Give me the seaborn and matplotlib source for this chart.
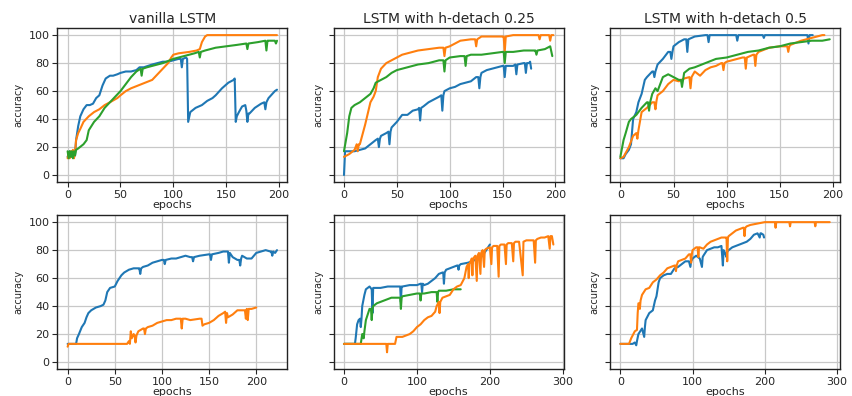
import matplotlib
matplotlib.use("Agg")
import matplotlib.pyplot as plt
import seaborn as sns

# ---------------- data ----------------
titles = ["vanilla LSTM", "LSTM with h-detach 0.25", "LSTM with h-detach 0.5"]
yticks = [0, 20, 40, 60, 80, 100]

# top-left: vanilla LSTM
tl_blue_x = [0,2,4,6,7,8,10,12,15,18,21,24,27,30,33,36,40,43,47,50,55,60,65,68,72,76,80,85,90,95,100,105,107,108,109,112,113,114,116,121,127,132,137,140,146,152,157,158,159,160,162,165,168,169,170,171,172,177,183,186,187,188,190,196,198]
tl_blue_y = [13,17,13,17,14,25,35,42,47,50,50,51,55,57,64,69,71,71,72,73,74,74,75,77,77,78,79,80,81,81,82,83,83,77,83,84,83,38,45,48,50,53,55,57,62,66,68,69,38,42,45,49,50,46,38,44,44,48,51,52,47,52,55,60,61]
tl_orange_x = [0,1,2,3,4,5,6,7,8,10,12,15,20,25,30,35,40,47,50,55,60,70,80,85,90,95,98,100,105,115,122,125,127,130,132,150,175,198]
tl_orange_y = [12,16,12,17,13,18,12,16,25,30,33,38,42,45,47,50,52,55,57,60,62,65,68,72,76,80,84,86,87,88,89,90,95,99,100,100,100,100]
tl_green_x = [0,1,2,3,4,5,6,7,8,10,15,18,20,25,30,35,40,45,50,55,60,65,69,70,71,75,80,90,100,110,120,124,125,126,130,140,150,160,169,170,171,180,187,188,189,190,196,197,198]
tl_green_y = [17,12,17,13,17,12,17,14,18,19,22,25,32,38,42,48,52,56,60,65,70,74,76,71,76,77,78,80,83,85,87,88,84,88,89,91,92,93,94,90,94,95,96,89,96,96,96,94,96]

# top-middle: h-detach 0.25
tm_blue_x = [0,1,5,10,15,20,25,30,32,33,34,35,40,42,43,44,45,50,55,60,65,70,71,72,73,75,80,85,90,92,93,94,95,100,105,110,115,120,125,127,128,129,130,135,140,145,150,151,152,153,160,162,163,164,170,171,172,173,175,176,177]
tm_blue_y = [0,17,17,17,18,19,22,25,26,20,26,28,30,31,22,31,34,38,43,43,46,47,48,39,48,49,52,54,56,57,46,57,60,62,63,65,66,67,70,70,62,70,73,75,76,77,78,78,70,78,78,79,72,79,80,80,73,80,80,81,76]
tm_orange_x = [0,5,10,12,13,14,15,20,25,28,30,32,35,40,45,50,55,60,70,80,90,94,95,96,100,105,110,120,124,125,126,130,140,150,151,152,153,160,170,184,185,186,194,195,196,198]
tm_orange_y = [13,15,18,22,17,22,22,36,52,56,60,70,76,80,82,84,86,87,89,90,91,91,85,91,92,94,96,97,97,92,97,99,99,99,99,88,99,100,100,100,97,100,100,96,100,100]
tm_green_x = [0,3,5,7,10,15,20,25,28,30,35,40,45,50,55,60,70,80,90,94,95,96,100,110,114,115,116,120,130,140,150,151,152,153,160,170,180,181,182,183,190,195,197]
tm_green_y = [17,30,42,48,50,52,55,58,62,66,68,70,73,75,76,77,79,80,82,82,74,82,84,85,85,78,85,86,86,87,88,88,80,88,88,89,89,89,86,89,90,92,85]

# top-right: h-detach 0.5
tr_blue_x = [0,3,5,8,10,12,15,17,20,23,25,30,31,32,33,35,40,45,47,48,49,50,55,60,62,63,64,70,80,82,83,84,100,109,110,111,134,135,136,176,177,178,181]
tr_blue_y = [12,12,15,18,22,40,45,52,58,68,70,74,74,70,74,79,83,88,88,83,88,92,95,97,97,88,97,99,100,100,95,100,100,100,96,100,100,98,100,100,94,100,100]
tr_orange_x = [0,3,8,12,15,16,17,20,25,30,32,33,34,35,40,45,50,55,60,65,66,67,70,75,80,85,90,95,96,97,98,100,110,115,117,118,119,125,126,127,128,130,140,150,157,158,159,160,170,180,190,192]
tr_orange_y = [12,13,20,28,30,26,32,45,48,52,52,47,53,57,60,65,68,67,69,70,62,70,74,71,75,77,78,80,80,75,80,81,83,84,84,76,84,86,86,78,86,88,91,92,92,88,92,93,96,98,100,100]
tr_green_x = [0,3,5,8,10,15,20,25,26,27,28,30,33,35,40,45,50,55,57,58,59,60,65,70,80,90,100,110,120,130,140,150,160,170,180,190,197]
tr_green_y = [13,25,30,38,40,43,48,52,52,46,52,58,62,60,70,72,70,68,68,63,68,73,76,77,80,83,84,86,88,89,91,92,94,95,96,96,97]

# bottom-left
bl_blue_x = [0,5,9,10,12,15,18,20,22,25,30,35,38,40,42,45,50,53,55,57,60,65,70,75,76,77,78,80,85,90,95,100,102,103,104,110,115,120,125,130,132,133,134,140,150,151,152,153,160,165,170,171,172,175,180,182,183,184,185,190,195,200,205,210,215,216,217,218,220,222]
bl_blue_y = [13,13,13,17,20,25,28,32,35,37,39,40,41,44,50,53,54,58,60,62,64,66,67,67,67,63,67,68,69,71,72,73,73,70,73,74,74,75,76,75,75,72,75,76,77,77,73,77,78,79,79,71,78,75,73,73,69,74,76,74,74,78,79,80,79,79,76,79,78,80]
bl_orange_x = [0,1,10,30,50,63,65,66,67,68,70,71,72,73,75,80,81,82,83,85,90,95,100,105,110,115,120,121,122,125,130,140,142,143,145,150,155,160,165,167,168,169,170,175,180,185,188,189,190,191,192,193,195,200]
bl_orange_y = [11,13,13,13,13,13,15,13,22,17,20,19,14,19,22,24,24,20,24,25,26,28,29,30,30,31,31,24,31,31,30,31,31,26,27,28,30,33,35,36,28,35,32,34,37,37,37,31,38,30,38,38,38,39]

# bottom-middle
bm_blue_x = [0,10,15,16,18,20,22,23,24,25,28,30,35,38,39,40,50,60,70,77,78,79,80,90,100,105,106,107,108,110,115,120,125,130,135,136,137,138,140,150,155,156,157,158,160,170,175,180,185,190,195,200]
bm_blue_y = [13,13,13,17,27,30,31,25,31,40,48,52,54,52,35,53,53,54,54,54,43,54,54,55,55,56,56,50,56,55,56,58,60,63,64,64,56,64,66,68,69,69,66,69,70,71,72,73,74,76,80,84]
bm_green_x = [0,10,23,25,26,27,28,30,35,37,38,39,40,45,50,55,60,65,70,77,78,79,80,90,100,104,105,106,110,120,125,127,128,129,130,140,150,160]
bm_green_y = [13,13,13,20,20,17,22,30,38,38,30,38,40,42,43,44,45,46,46,46,38,46,47,48,49,49,44,49,49,50,50,50,43,50,51,51,52,52]
bm_orange_x = [0,30,58,59,60,70,72,80,90,95,100,105,110,115,120,125,127,130,131,132,135,140,145,150,155,160,163,165,168,170,171,172,175,176,177,180,182,183,185,187,188,190,192,193,195,200,202,203,205,210,212,213,215,220,222,223,225,230,232,233,235,240,245,246,250,255,260,262,263,265,270,275,280,282,283,285,287]
bm_orange_y = [13,13,13,7,13,13,18,18,20,22,25,27,30,32,33,36,40,43,35,43,46,47,48,52,54,55,58,60,68,70,60,70,74,62,74,76,58,76,78,63,78,80,68,80,81,82,70,82,83,83,61,83,84,84,70,84,85,85,72,85,86,86,62,86,87,87,87,71,87,88,89,89,90,81,90,90,84]

# bottom-right
br_blue_x = [0,17,20,22,23,25,30,33,34,35,38,40,45,48,50,53,55,60,65,70,75,80,85,90,95,97,98,100,105,110,113,114,115,120,125,130,135,140,142,143,145,147,148,150,155,160,165,170,175,180,185,190,193,194,195,198,199]
br_blue_y = [13,13,14,12,15,20,24,18,25,30,33,35,37,44,47,57,60,62,63,63,67,68,70,72,72,68,72,74,76,74,68,75,76,80,81,82,82,83,69,80,78,75,79,80,82,83,84,85,86,88,91,92,89,92,92,91,89]
br_orange_x = [0,12,15,20,23,24,25,26,27,28,30,35,40,45,50,55,60,65,70,75,76,77,78,80,85,90,95,97,98,99,100,105,107,108,109,110,115,120,125,130,135,140,145,147,148,149,150,155,160,165,170,171,172,173,175,180,190,200,210,214,215,216,220,234,235,236,240,269,270,271,275,290]
br_orange_y = [13,13,17,22,23,35,42,42,38,44,48,52,53,57,59,62,64,67,68,69,69,65,69,72,73,74,77,77,71,77,80,82,82,75,82,82,81,84,86,87,88,89,89,89,72,89,90,92,94,95,96,96,90,96,97,98,99,100,100,100,96,100,100,100,97,100,100,100,97,100,100,100]

# ---------------- styling ----------------
BLUE, ORANGE, GREEN = "#1f77b4", "#ff7f0e", "#2ca02c"
sns.set_style("ticks")
plt.rcParams["font.family"] = ["DejaVu Sans"]
plt.rcParams["axes.edgecolor"] = "#222222"
plt.rcParams["axes.linewidth"] = 1.0

fig, axes = plt.subplots(2, 3, figsize=(8.53, 3.96), dpi=100, sharey="row")
fig.subplots_adjust(left=0.067, right=0.985, bottom=0.068, top=0.929,
                    wspace=0.2, hspace=0.215)

panels = [
    [(tl_blue_x, tl_blue_y, BLUE), (tl_orange_x, tl_orange_y, ORANGE), (tl_green_x, tl_green_y, GREEN)],
    [(tm_blue_x, tm_blue_y, BLUE), (tm_orange_x, tm_orange_y, ORANGE), (tm_green_x, tm_green_y, GREEN)],
    [(tr_blue_x, tr_blue_y, BLUE), (tr_orange_x, tr_orange_y, ORANGE), (tr_green_x, tr_green_y, GREEN)],
    [(bl_blue_x, bl_blue_y, BLUE), (bl_orange_x, bl_orange_y, ORANGE)],
    [(bm_blue_x, bm_blue_y, BLUE), (bm_green_x, bm_green_y, GREEN), (bm_orange_x, bm_orange_y, ORANGE)],
    [(br_blue_x, br_blue_y, BLUE), (br_orange_x, br_orange_y, ORANGE)],
]

for i, ax in enumerate(axes.flat):
    for xs, ys, c in panels[i]:
        sns.lineplot(x=xs, y=ys, ax=ax, color=c, linewidth=1.5,
                     estimator=None, sort=False)
    ax.grid(True, color="#c8c8c8", linewidth=0.9)
    ax.set_axisbelow(True)
    ax.set_ylim(-5, 105)
    ax.set_yticks(yticks)
    ax.tick_params(labelsize=8, length=3.5, width=0.8, pad=2)
    ax.set_xlabel("epochs", fontsize=8, labelpad=0)
    ax.set_ylabel("accuracy", fontsize=7)
    ax.yaxis.label.set_visible(True)
    if i < 3:
        ax.set_title(titles[i], fontsize=10, pad=4)
    for s in ax.spines.values():
        s.set_visible(True)

for ax in axes.flat:
    ax.set_xticks([t for t in ax.get_xticks() if ax.get_xlim()[0] <= t <= ax.get_xlim()[1]])

fig.savefig("out.png", dpi=100)
